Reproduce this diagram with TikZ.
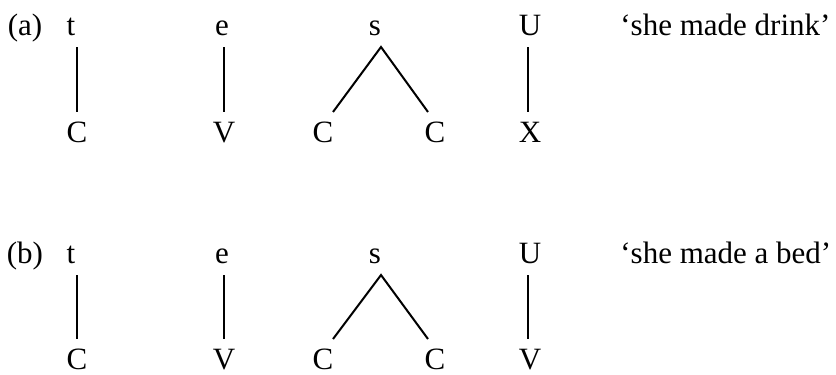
\documentclass[tikz,border=0pt]{standalone}
\usepackage{fontspec}
\setmainfont{Liberation Serif}
\usetikzlibrary{calc}
\begin{document}
\begin{tikzpicture}[x=0.5pt,y=-0.5pt,
  seg/.style={inner sep=0pt,anchor=base,font=\fontsize{15.5}{18}\selectfont},
  gloss/.style={inner sep=0pt,anchor=base west,font=\fontsize{15.5}{18}\selectfont},
  assoc/.style={line width=1pt,line cap=butt}]
\useasboundingbox (0,0) rectangle (836,375);

% ---- (a) ----
\node[seg] (labA) at (25,35) {(a)};
\node[seg] (tA) at (71,35) {t};
\node[seg] (eA) at (222,35) {e};
\node[seg] (sA) at (375,35) {s};
\node[seg] (uA) at (530,35) {U};
\node[gloss] (glA) at (620,35) {`she made drink'};

\node[seg] (c1A) at (77,142) {C};
\node[seg] (vA) at (224,142) {V};
\node[seg] (c2A) at (323,142) {C};
\node[seg] (c3A) at (435,142) {C};
\node[seg] (xA) at (530,142) {X};

\draw[assoc] ($(tA.base -| c1A.base)+(0,-6pt)$) -- ($(c1A.base)+(0,15pt)$);
\draw[assoc] ($(eA.base -| vA.base)+(0,-6pt)$) -- ($(vA.base)+(0,15pt)$);
\coordinate (apA) at ($(sA.base)+(3pt,-6pt)$);
\draw[assoc] ($(c2A.base)+(5pt,15pt)$) -- (apA) -- ($(c3A.base)+(-3.5pt,15pt)$);
\draw[assoc] ($(uA.base)+(-1pt,-6pt)$) -- ($(xA.base)+(-1pt,15pt)$);

% ---- (b) ----
\node[seg] (labB) at (25,263) {(b)};
\node[seg] (tB) at (71,263) {t};
\node[seg] (eB) at (222,263) {e};
\node[seg] (sB) at (375,263) {s};
\node[seg] (uB) at (530,263) {U};
\node[gloss] (glB) at (620,263) {`she made a bed'};

\node[seg] (c1B) at (77,369) {C};
\node[seg] (vB) at (224,369) {V};
\node[seg] (c2B) at (323,369) {C};
\node[seg] (c3B) at (435,369) {C};
\node[seg] (v2B) at (530,369) {V};

\draw[assoc] ($(tB.base -| c1B.base)+(0,-6pt)$) -- ($(c1B.base)+(0,15pt)$);
\draw[assoc] ($(eB.base -| vB.base)+(0,-6pt)$) -- ($(vB.base)+(0,15pt)$);
\coordinate (apB) at ($(sB.base)+(3pt,-6pt)$);
\draw[assoc] ($(c2B.base)+(5pt,15pt)$) -- (apB) -- ($(c3B.base)+(-3.5pt,15pt)$);
\draw[assoc] ($(uB.base)+(-1pt,-6pt)$) -- ($(v2B.base)+(-1pt,15pt)$);
\end{tikzpicture}
\end{document}
